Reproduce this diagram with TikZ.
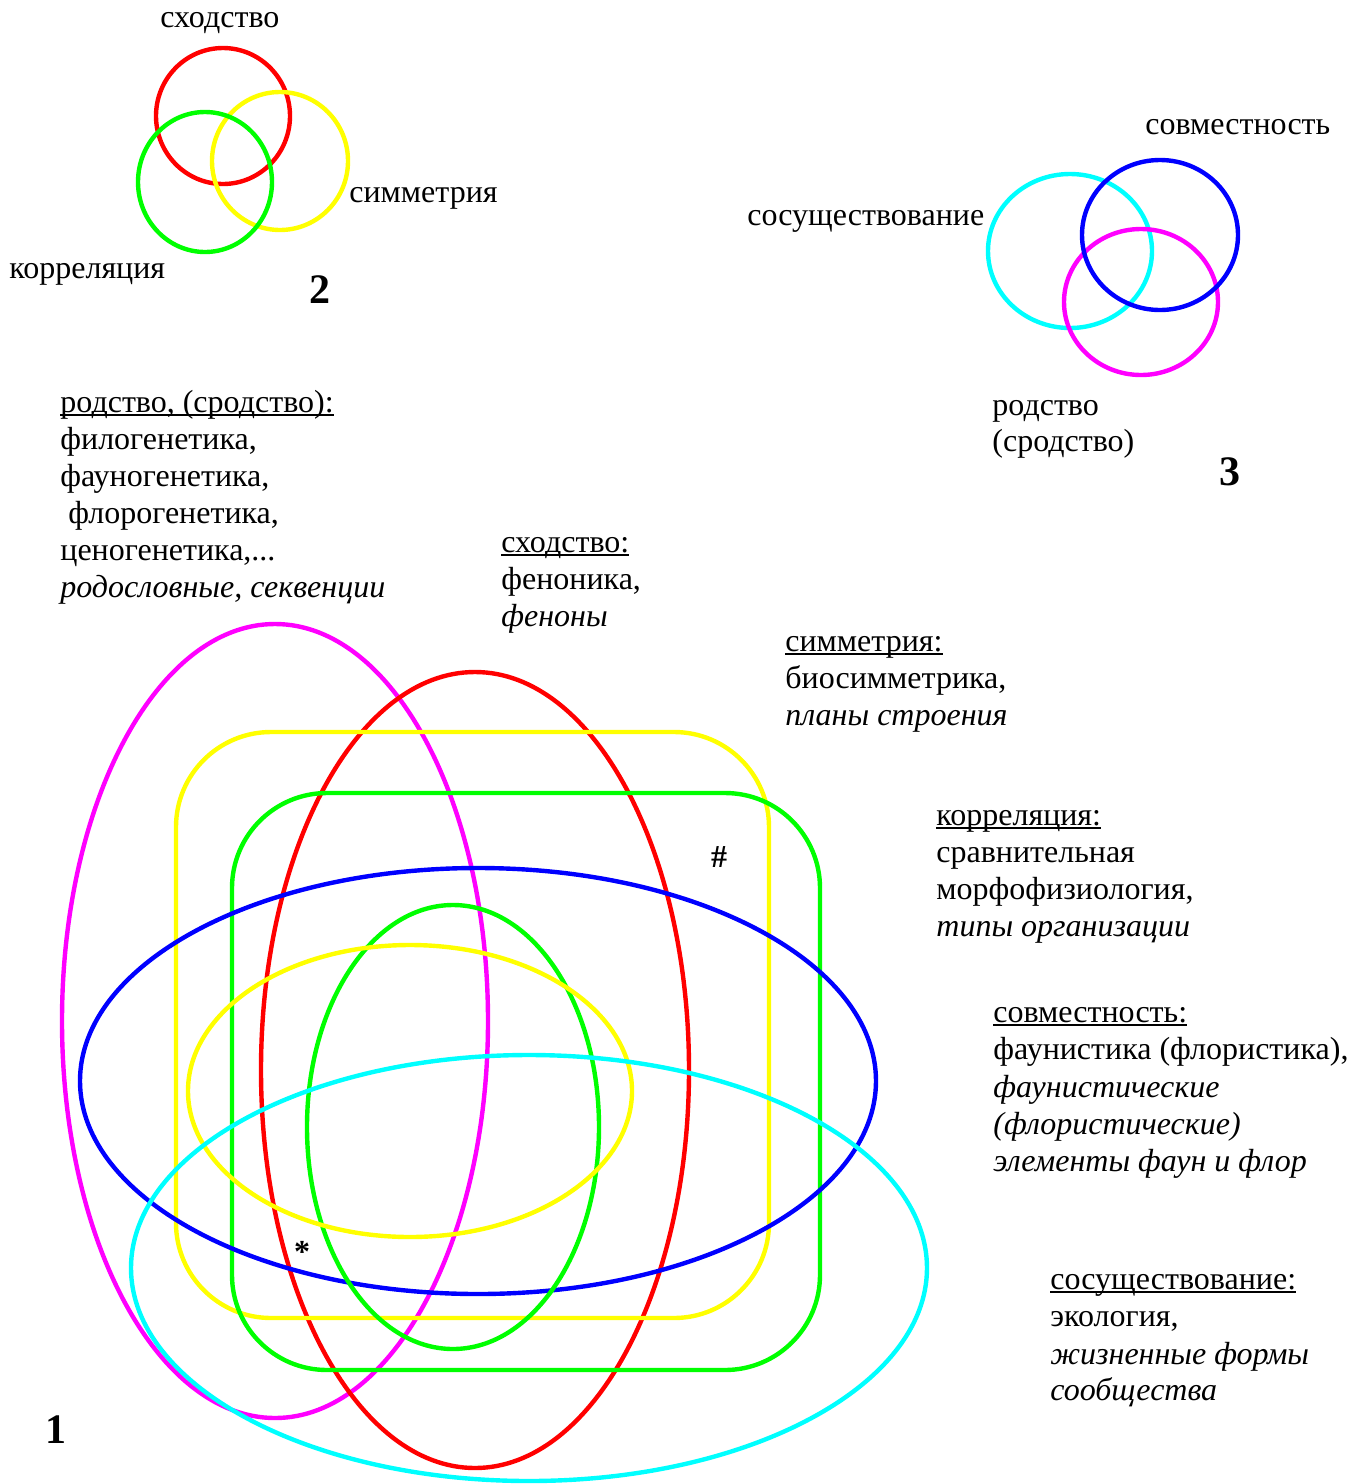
\documentclass[tikz,border=0pt]{standalone}
\usepackage{fontspec}
\setmainfont{Liberation Serif}
\definecolor{cRed}{RGB}{255,0,0}
\definecolor{cYel}{RGB}{255,255,0}
\definecolor{cGrn}{RGB}{0,255,0}
\definecolor{cBlu}{RGB}{0,0,255}
\definecolor{cCya}{RGB}{0,255,255}
\definecolor{cMag}{RGB}{255,0,255}
\newcommand\myul[1]{\setbox0=\hbox{#1}\rlap{\rule[-2pt]{\wd0}{1.1pt}}\box0}
\tikzset{
  ring/.style={line width=2.2pt},
  txt/.style={anchor=base west, inner sep=0pt, font=\fontsize{16}{18}\selectfont},
  itx/.style={txt, font=\fontsize{16}{18}\selectfont\itshape},
  num/.style={anchor=center, inner sep=0pt, font=\fontsize{21}{24}\selectfont\bfseries},
  symb/.style={anchor=center, inner sep=0pt, font=\fontsize{16}{18}\selectfont\bfseries}
}
\begin{document}
\begin{tikzpicture}[x=0.5pt,y=-0.5pt]
\useasboundingbox (0,0) rectangle (1368,1484);
% ---------- diagram 2 ----------
\draw[ring,cRed] (223,116) ellipse [x radius=67, y radius=68];
\draw[ring,cYel] (280,161) ellipse [x radius=68, y radius=69];
\draw[ring,cGrn] (205,182) ellipse [x radius=67, y radius=70];
\node[txt] (l2a) at (160,27) {сходство};
\node[txt] (l2b) at (349,202) {симметрия};
\node[txt] (l2c) at (9,278) {корреляция};
\node[num] (n2) at (320,290) {2};
% ---------- diagram 3 ----------
\draw[ring,cCya] (1070,251) ellipse [x radius=82, y radius=77];
\draw[ring,cMag] (1141,302) ellipse [x radius=77, y radius=73];
\draw[ring,cBlu] (1160,235) ellipse [x radius=78, y radius=75];
\node[txt] (l3a) at (1145,134) {совместность};
\node[txt] (l3b) at (747,225) {сосуществование};
\node[txt] (l3c) at (992,415) {родство};
\node[txt] (l3d) at (992,451) {(сродство)};
\node[num] (n3) at (1230,472) {3};
% ---------- diagram 1 ----------
\draw[ring,cMag] (275,1021) ellipse [x radius=213, y radius=397];
\draw[ring,cRed] (475,1070) ellipse [x radius=214, y radius=398];
\draw[ring,cYel,rounded corners=47.5pt] (176,732) rectangle (769,1318);
\draw[ring,cGrn,rounded corners=47.5pt] (232,793) rectangle (820,1370);
\draw[ring,cBlu] (478,1081) ellipse [x radius=398, y radius=213];
\draw[ring,cGrn] (453,1127) ellipse [x radius=146, y radius=222];
\draw[ring,cYel] (410,1091) ellipse [x radius=222, y radius=146];
\draw[ring,cCya] (529,1268) ellipse [x radius=398, y radius=213];
\node[symb] (hash) at (719,857) {\#};
\node[symb] (star) at (302,1252) {*};
\node[num] (n1) at (56,1430) {1};
% ---------- text blocks ----------
\node[txt] (a1) at (60,412) {\myul{родство, (сродство):}};
\node[txt] (a2) at (60,449) {филогенетика,};
\node[txt] (a3) at (60,486) {фауногенетика,};
\node[txt] (a4) at (68,523) {флорогенетика,};
\node[txt] (a5) at (60,560) {ценогенетика,...};
\node[itx] (a6) at (60,597) {родословные, секвенции};
\node[txt] (b1) at (501,552) {\myul{сходство:}};
\node[txt] (b2) at (501,589) {феноника,};
\node[itx] (b3) at (501,626) {феноны};
\node[txt] (c1) at (785,651) {\myul{симметрия:}};
\node[txt] (c2) at (785,688) {биосимметрика,};
\node[itx] (c3) at (785,725) {планы строения};
\node[txt] (d1) at (936,825) {\myul{корреляция:}};
\node[txt] (d2) at (936,862) {сравнительная};
\node[txt] (d3) at (936,899) {морфофизиология,};
\node[itx] (d4) at (936,936) {типы организации};
\node[txt] (e1) at (993,1022) {\myul{совместность:}};
\node[txt] (e2) at (993,1059) {фаунистика (флористика),};
\node[itx] (e3) at (993,1097) {фаунистические};
\node[itx] (e4) at (993,1134) {(флористические)};
\node[itx] (e5) at (993,1171) {элементы фаун и флор};
\node[txt] (f1) at (1050,1289) {\myul{сосуществование:}};
\node[txt] (f2) at (1050,1326) {экология,};
\node[itx] (f3) at (1050,1364) {жизненные формы};
\node[itx] (f4) at (1050,1400) {сообщества};
\end{tikzpicture}
\end{document}
